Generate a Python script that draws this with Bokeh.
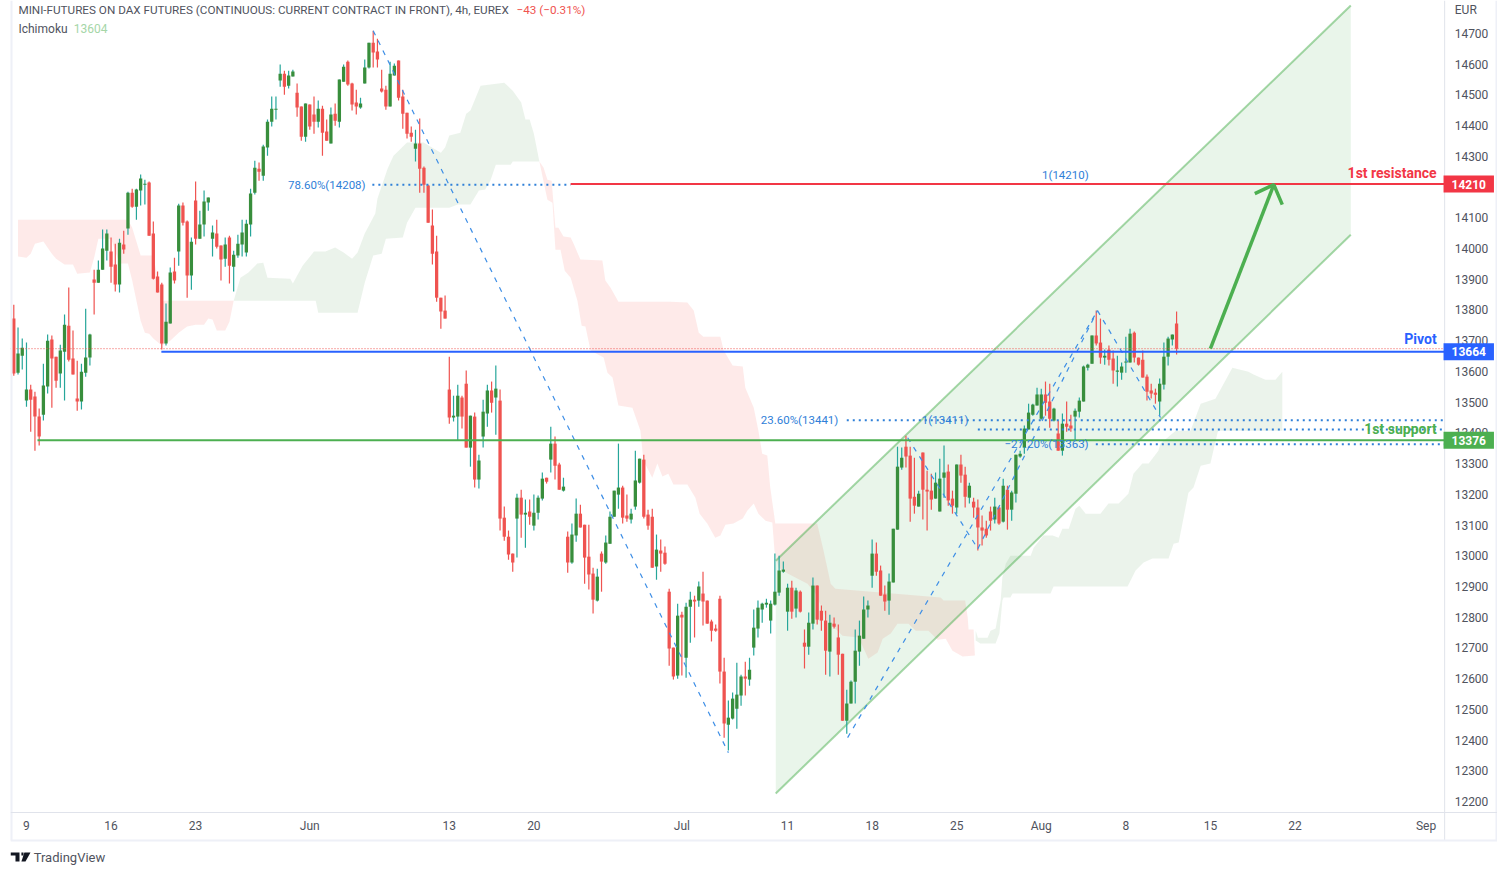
from bokeh.plotting import figure
from bokeh.models import Range1d, LinearAxis, FixedTicker, Label
from bokeh.embed import file_html
from bokeh.resources import INLINE

#Candles (4h bars, prices in EUR)
opens = [13772,13596,13651,13505,13541,13518,13453,13459,13551,13704,
         13648,13593,13664,13749,13642,13512,13502,13596,13645,13899,
         13889,13931,13993,13990,13948,13883,14013,14065,14182,14136,
         14189,14208,14215,14049,13909,13883,13691,13756,13925,13990,
         14140,14088,13912,14156,14032,14078,14150,14032,14049,14010,
         13967,14036,13941,13977,14013,13987,14078,14182,14260,14237,
         14329,14413,14452,14547,14569,14530,14560,14507,14462,14364,
         14469,14436,14413,14455,14381,14342,14439,14413,14543,14608,
         14537,14475,14459,14537,14589,14670,14641,14521,14517,14462,
         14563,14612,14495,14442,14377,14325,14342,14263,14205,14075,
         13990,13840,13798,13541,13450,13453,13515,13560,13352,13453,
         13248,13388,13463,13538,13515,13505,13124,13062,13007,13121,
         13189,13134,13144,13098,13140,13186,13254,13313,13365,13297,
         13212,13062,12978,13066,13137,13101,12997,12942,12854,13007,
         12978,13039,13127,13199,13222,13131,13118,13160,13238,13313,
         13134,13127,12965,13017,13010,12883,12701,12610,12808,12668,
         12834,12857,12854,12877,12854,12786,12763,12860,12623,12450,
         12470,12502,12545,12607,12597,12701,12763,12825,12841,12789,
         12841,12880,12948,12818,12896,12828,12883,12717,12704,12779,
         12903,12821,12789,12688,12779,12734,12681,12463,12519,12590,
         12688,12730,12825,12935,13007,12952,12874,12854,12913,13085,
         13287,13355,13326,13192,13160,13336,13215,13212,13186,13144,
         13254,13274,13186,13157,13297,13264,13189,13176,13157,13092,
         13088,13144,13118,13157,13111,13215,13150,13202,13323,13352,
         13411,13459,13489,13446,13525,13502,13440,13398,13342,13430,
         13424,13453,13469,13502,13612,13625,13717,13694,13645,13671,
         13642,13599,13596,13629,13629,13726,13645,13638,13583,13538,
         13531,13502,13557,13648,13704,13756]
highs = [13817,13743,13707,13694,13557,13534,13479,13625,13720,13717,
         13648,13687,13785,13873,13733,13635,13625,13804,13723,13931,
         13961,14062,14062,14036,14016,14032,14058,14185,14195,14195,
         14241,14224,14218,14088,13925,13889,13821,13938,13970,14146,
         14150,14091,14036,14218,14123,14189,14166,14075,14094,14010,
         14036,14042,13993,14045,14094,14094,14195,14286,14280,14338,
         14420,14495,14495,14599,14579,14579,14582,14537,14462,14472,
         14469,14495,14482,14465,14420,14459,14472,14550,14599,14612,
         14540,14517,14491,14615,14670,14709,14683,14582,14530,14608,
         14602,14612,14517,14442,14397,14387,14423,14267,14208,14127,
         14042,13840,13847,13648,13521,13557,13521,13603,13456,13466,
         13329,13508,13557,13567,13619,13541,13160,13082,13007,13202,
         13215,13183,13183,13199,13196,13271,13254,13420,13388,13303,
         13254,13079,13105,13186,13166,13101,13101,12961,12958,13014,
         13066,13144,13212,13365,13228,13199,13153,13342,13316,13329,
         13150,13153,13069,13053,13030,12893,12701,12844,12818,12847,
         12883,12870,12916,12948,12854,12792,12776,12870,12668,12529,
         12555,12652,12613,12655,12668,12825,12854,12847,12860,12854,
         13007,13000,12981,12909,12919,12896,12887,12760,12815,12929,
         12903,12838,12821,12808,12799,12776,12681,12564,12594,12760,
         12789,12867,12854,13053,13043,12968,12903,12942,13088,13355,
         13352,13391,13355,13319,13212,13336,13277,13267,13271,13316,
         13359,13297,13212,13297,13329,13290,13238,13189,13183,13131,
         13114,13160,13189,13160,13251,13228,13212,13329,13342,13424,
         13495,13495,13547,13544,13567,13560,13482,13440,13463,13502,
         13459,13479,13515,13619,13625,13717,13798,13772,13671,13684,
         13668,13651,13629,13713,13739,13730,13645,13668,13590,13560,
         13544,13577,13694,13713,13720,13795]
lows = [13586,13590,13606,13485,13404,13342,13359,13440,13528,13482,
        13547,13547,13505,13632,13590,13472,13476,13583,13619,13785,
        13889,13931,13961,13889,13860,13857,13983,14045,14133,14094,
        14140,14143,14042,13899,13857,13671,13684,13756,13886,13944,
        14075,13840,13866,14013,14032,14039,14123,13974,14000,13896,
        13941,13886,13860,13970,13974,13974,14039,14176,14221,14221,
        14302,14397,14420,14527,14501,14521,14560,14429,14351,14348,
        14387,14374,14394,14302,14351,14342,14400,14394,14543,14530,
        14449,14436,14455,14537,14586,14589,14589,14508,14452,14462,
        14563,14482,14390,14358,14348,14283,14182,14182,14084,13948,
        13827,13739,13772,13430,13437,13375,13414,13352,13290,13222,
        13219,13352,13420,13466,13394,13082,13049,12987,12948,12994,
        13059,13026,13101,13082,13118,13180,13235,13271,13248,13215,
        13209,12945,12974,13046,13092,12909,12890,12812,12851,12883,
        12974,13039,13127,13153,13105,13111,13105,13150,13235,13121,
        13085,12961,12922,12948,12971,12642,12597,12600,12610,12603,
        12717,12734,12834,12773,12779,12721,12753,12584,12408,12366,
        12467,12437,12512,12545,12577,12675,12734,12782,12831,12747,
        12838,12870,12945,12756,12795,12799,12815,12633,12678,12760,
        12776,12756,12613,12607,12763,12613,12463,12421,12519,12519,
        12642,12730,12799,12896,12935,12870,12821,12808,12913,13085,
        13280,13287,13111,13137,13160,13118,13082,13150,13186,13144,
        13189,13163,13137,13137,13238,13157,13170,13124,13017,13033,
        13059,13082,13105,13101,13108,13085,13114,13173,13319,13332,
        13411,13456,13489,13443,13456,13417,13437,13342,13326,13404,
        13404,13375,13450,13502,13603,13625,13684,13625,13622,13619,
        13560,13551,13573,13596,13629,13629,13619,13580,13505,13512,
        13495,13456,13541,13619,13684,13655]
closes = [13593,13658,13677,13541,13508,13453,13388,13554,13700,13642,
          13570,13668,13752,13638,13590,13502,13599,13645,13720,13889,
          13931,14000,14049,13941,13883,14019,13997,14182,14136,14192,
          14228,14211,14042,13902,13857,13691,13762,13922,13896,14140,
          14084,13912,14022,14032,14078,14153,14166,14052,14006,13964,
          14013,13944,13980,14016,14052,14081,14179,14263,14250,14332,
          14413,14455,14455,14569,14527,14563,14576,14459,14364,14472,
          14397,14413,14455,14377,14351,14436,14416,14550,14592,14534,
          14469,14462,14472,14589,14670,14638,14615,14511,14462,14569,
          14595,14491,14439,14374,14364,14342,14260,14208,14084,13983,
          13840,13795,13772,13450,13456,13521,13453,13352,13456,13248,
          13310,13469,13538,13498,13544,13121,13062,13004,12978,13189,
          13134,13140,13127,13140,13189,13251,13241,13365,13293,13215,
          13225,12978,13069,13137,13092,12994,12939,12857,12932,12981,
          13043,13127,13212,13222,13124,13121,13137,13245,13316,13127,
          13098,12961,13020,13007,12974,12698,12607,12805,12799,12834,
          12857,12851,12900,12851,12779,12756,12756,12623,12454,12473,
          12535,12548,12607,12600,12629,12766,12831,12844,12847,12844,
          12883,12952,12955,12896,12818,12887,12818,12704,12782,12903,
          12792,12789,12691,12782,12769,12678,12463,12519,12590,12691,
          12740,12825,12838,13007,12948,12870,12851,12916,13088,13290,
          13319,13323,13186,13163,13202,13215,13209,13183,13238,13251,
          13271,13180,13163,13297,13261,13192,13228,13157,13092,13082,
          13066,13114,13160,13105,13228,13150,13206,13329,13332,13414,
          13466,13492,13525,13525,13498,13446,13479,13342,13430,13420,
          13414,13472,13505,13616,13622,13717,13691,13645,13651,13638,
          13603,13603,13616,13632,13723,13645,13622,13580,13534,13528,
          13524,13560,13648,13707,13720,13674]
bars = list(range(len(opens)))

#Ichimoku cloud edges, one list pair per edge
red1_top_x = [1,27,28,30,33,35,52]
red1_top = [14094,14094,14068,13977,13977,13830,13830]
red1_bot_x = [1,3,4,5,7,9,10,12,14,15,18,19,20,23,25,27,28,30,31,32,33,35,37,39,41,43,45,46,47,48,50,51,52]
red1_bot = [13974,13970,13983,14016,14023,13983,13967,13948,13948,13918,13922,13970,14032,14032,13951,13951,13896,13765,13726,13723,13707,13684,13700,13726,13746,13752,13752,13772,13769,13733,13733,13762,13830]

green1_top_x = [52,53.6,55.5,57.6,59,60,65.4,66,68.3,71,73.7,76,78,80,81.3,83,85.5,86,88.4,89.8,93,96.9,101,102,103,105.6,107,108,110.4,116,118,120,121,122,123,124.3]
green1_top = [13830,13905,13922,13951,13954,13905,13902,13886,13944,13990,13990,14003,13987,13967,13987,14049,14114,14162,14260,14302,14345,14345,14312,14329,14368,14377,14439,14449,14530,14540,14514,14475,14420,14420,14374,14283]
green1_bot_x = [52,71.4,72,81.3,83,85,87,88,92,93,95,103,105,108,110,111.5,112.7,114,117.5,118,124.3]
green1_bot = [13830,13830,13791,13791,13889,13977,13983,14032,14036,14084,14133,14133,14143,14143,14189,14192,14221,14273,14273,14283,14283]

red2_top_x = [124.3,125.3,126.2,127.2,128.1,128.8,130,131.7,132.4,134,139.2,139.9,141.1,143,155.3,159.3,160.8,162,163.1,167.1,167.9,170,172.4,173,175,176.1,177,178.2,178.9,180.1,190,191.5,193.2,194.3,219.2,219.9,225,225.6,225.8,227,227.3]
red2_top = [14283,14263,14224,14221,14068,14068,14039,14036,14016,13964,13961,13896,13873,13827,13827,13824,13798,13726,13713,13713,13668,13619,13616,13547,13482,13407,13332,13326,13222,13105,13105,13017,12909,12893,12864,12854,12854,12799,12760,12760,12675]
red2_bot_x = [124.3,126.2,127.4,128.1,129.3,130.3,131.7,133.3,134.3,135.2,136.4,139.5,140.4,141.6,143,146.3,148.2,148.9,151,152.2,153.4,154.8,156,159.3,161.2,162.2,164,165.9,167.1,168.3,170.2,172.4,173.5,175,176.1,177.8,179.4,179.9,180.9,183,187.7,189.6,192.4,196,199.8,202.1,204.3,205.5,207.4,209,211.6,213.3,216.3,218.5,220.4,222,224.4,227.3]
red2_bot = [14283,14159,14149,13996,13996,13928,13905,13830,13749,13746,13668,13645,13596,13580,13489,13482,13407,13310,13254,13300,13258,13267,13232,13232,13189,13137,13105,13059,13066,13101,13105,13121,13147,13170,13137,13114,13108,13017,12961,12942,12909,12877,12789,12740,12734,12665,12685,12730,12747,12779,12779,12756,12756,12727,12730,12691,12672,12675]

green2_top_x = [227.5,228,230.3,231,232.2,233.4,233.8,234.6,235.7,240.5,241.2,243.5,245.7,247.1,248,249.5,251.1,252,253.5,257,258.9,261.3,263.6,264.8,266.9,268.4,270.7,271.2,274.8,278.3,280.7,284.2,288.2,292,293.2,296,298.4,300]
green2_top = [12756,12733,12733,12756,12763,12854,12929,12974,13000,13000,13026,13066,13066,13059,13088,13088,13153,13163,13137,13137,13170,13170,13202,13267,13300,13300,13342,13365,13407,13407,13495,13511,13612,13599,13590,13573,13573,13599]
green2_bot_x = [227.5,228.6,232.2,233.1,233.8,234.1,235.7,236.2,245.2,245.9,263.4,264.1,265.3,267.2,269.3,273.1,274.3,275.5,277.8,279,280.7,283,284.7,284.9,300]
green2_bot = [12724,12714,12714,12747,12854,12864,12864,12877,12877,12900,12900,12919,12952,12978,12991,12991,13039,13043,13205,13222,13293,13300,13401,13407,13407]

#Rising channel drawn on the chart
channel_x = [180.2,316.2]
channel_upper = [12984,14791]
channel_lower = [12226,14045]

#Levels
resistance = 14210
pivot = 13664
support = 13376
fib_78 = 14208
fib_23 = 13441
fib_ext_1 = 13411
fib_ext_27 = 13363

#Dashed swing lines (bar, price)
swing_x = [[85,169],[197.2,256.3],[211.4,228],[228,256.3],[256.3,271.2]]
swing_y = [[14709,12359],[12408,13798],[13384,13023],[13023,13798],[13798,13450]]

#Arrow towards the resistance
arrow_x = [283,298]
arrow_y = [13674,14208]
arrow_head_x = [293.5,298,300]
arrow_head_y = [14179,14208,14143]

#Axes
price_ticks = list(range(12200,14800,100))
date_ticks = [3,23,43,70,103,123,158,183,203,223,243,263,283,303,334]
date_labels = ["9","16","23","Jun","13","20","Jul","11","18","25","Aug","8","15","22","Sep"]

FONT = "Roboto"
GREY = "#50535e"
UP_BODY = "#388e3c"
UP_WICK = "#26a69a"
DOWN = "#ef5350"
BLUE = "#2962ff"
RED = "#f23645"
GREEN = "#4caf50"
FIB = "#2f80d8"
BORDER = "#eef0f7"
AXIS_LINE = "#e0e3eb"
LAST_BAR_X = 338.4   #price axis sits here
X_START, X_END = -0.78, 350.9
Y_BOTTOM, Y_TOP = 11982, 14807.4   #the frame runs down to the footer
PANE_BOTTOM = 12073
TIME_AXIS_Y = 12164.2

p = figure(width=1497, height=868, output_backend="svg", toolbar_location=None,
           x_range=Range1d(X_START,X_END), y_range=Range1d(Y_BOTTOM,Y_TOP),
           x_axis_location=None, y_axis_location=None,
           min_border_left=10, min_border_right=0, min_border_top=0, min_border_bottom=0)
p.grid.visible = False
p.outline_line_color = None
p.background_fill_color = "white"

#Ichimoku clouds
for tx,ty,bx,by,col,alpha in [(red1_top_x,red1_top,red1_bot_x,red1_bot,"#f44336",0.11),
                              (green1_top_x,green1_top,green1_bot_x,green1_bot,UP_BODY,0.1),
                              (red2_top_x,red2_top,red2_bot_x,red2_bot,"#f44336",0.11),
                              (green2_top_x,green2_top,green2_bot_x,green2_bot,UP_BODY,0.1)]:
    p.patch(tx+bx[::-1], ty+by[::-1], fill_color=col, fill_alpha=alpha, line_alpha=0)

#Channel
p.patch(channel_x+channel_x[::-1], channel_upper+channel_lower[::-1], fill_color=GREEN, fill_alpha=0.12, line_alpha=0)
p.line(channel_x, channel_upper, line_color=GREEN, line_alpha=0.5, line_width=2)
p.line(channel_x, channel_lower, line_color=GREEN, line_alpha=0.5, line_width=2)

#Candles
up = [i for i in bars if closes[i] >= opens[i]]
down = [i for i in bars if closes[i] < opens[i]]
p.segment(up, [highs[i] for i in up], up, [lows[i] for i in up], line_color=UP_WICK, line_width=1.2)
p.segment(down, [highs[i] for i in down], down, [lows[i] for i in down], line_color=DOWN, line_width=1.2)
p.vbar(up, 0.78, [opens[i] for i in up], [closes[i] for i in up], fill_color=UP_BODY, line_alpha=0)
p.vbar(down, 0.78, [closes[i] for i in down], [opens[i] for i in down], fill_color=DOWN, line_alpha=0)

#Last price
p.line([X_START,LAST_BAR_X], [closes[-1],closes[-1]], line_color=DOWN, line_width=1, line_dash=[1,2])

#Dashed swings
for sx,sy in zip(swing_x, swing_y):
    p.line(sx, sy, line_color="#3d8ee6", line_width=1.2, line_dash=[5,6])

#Fib dotted levels
for x0,level in [(84.8,fib_78),(197,fib_23),(228,fib_ext_1),(255.9,fib_ext_27)]:
    x1 = 131.7 if level == fib_78 else LAST_BAR_X
    p.line([x0,x1], [level,level], line_color=FIB, line_width=2, line_dash=[2,4])

#Main levels
p.line([131.7,LAST_BAR_X], [resistance,resistance], line_color=RED, line_width=2)
p.line([34.9,LAST_BAR_X], [pivot,pivot], line_color=BLUE, line_width=2)
p.line([5.6,LAST_BAR_X], [support,support], line_color=GREEN, line_width=2)

#Arrow
p.line(arrow_x, arrow_y, line_color=GREEN, line_width=3.5)
p.line(arrow_head_x, arrow_head_y, line_color=GREEN, line_width=3.5)

#Axes placed inside the frame, like the panes of the original
yaxis = LinearAxis(fixed_location=LAST_BAR_X, ticker=FixedTicker(ticks=price_ticks))
yaxis.axis_line_color = None
yaxis.major_tick_line_color = None
yaxis.minor_tick_line_color = None
yaxis.major_label_standoff = 4
yaxis.major_label_text_font = FONT
yaxis.major_label_text_font_size = "12px"
yaxis.major_label_text_color = GREY
p.add_layout(yaxis, "right")

xaxis = LinearAxis(fixed_location=TIME_AXIS_Y, ticker=FixedTicker(ticks=date_ticks))
xaxis.major_label_overrides = dict(zip(date_ticks, date_labels))
xaxis.axis_line_color = AXIS_LINE
xaxis.major_tick_line_color = None
xaxis.minor_tick_line_color = None
xaxis.major_label_standoff = 0
xaxis.major_label_text_font = FONT
xaxis.major_label_text_font_size = "12px"
xaxis.major_label_text_color = GREY
p.add_layout(xaxis, "below")

#Pane borders stop at the pane bottom, the footer sits under them
p.line([LAST_BAR_X,LAST_BAR_X], [PANE_BOTTOM,Y_TOP], line_color=AXIS_LINE, line_width=1)
p.line([X_START,X_START], [PANE_BOTTOM,Y_TOP], line_color=BORDER, line_width=4)
p.line([X_END,X_END], [PANE_BOTTOM,Y_TOP], line_color=BORDER, line_width=4)
p.line([X_START,X_END], [PANE_BOTTOM,PANE_BOTTOM], line_color=BORDER, line_width=2)

def text(x, y, t, color=GREY, align="left", size="12px", style="normal"):
    p.add_layout(Label(x=x, y=y, text=t, text_color=color, text_align=align, text_baseline="middle",
                       text_font=FONT, text_font_size=size, text_font_style=style))

#Header
text(1.1, 14775, "MINI-FUTURES ON DAX FUTURES (CONTINUOUS: CURRENT CONTRACT IN FRONT), 4h, EUREX", size="11.7px")
text(118.9, 14775, "\u221243 (\u22120.31%)", color=DOWN, size="11.7px")
text(1.1, 14716, "Ichimoku")
text(14.2, 14716, "13604", color="#a5d6a7")
text(340.8, 14778, "EUR")

#Drawing labels
text(83.2, fib_78, "78.60%(14208)", color=FIB, align="right", size="11.5px")
text(248.7, 14241, "1(14210)", color=FIB, align="center", size="11.5px")
text(195, fib_23, "23.60%(13441)", color=FIB, align="right", size="11.5px")
text(225.8, 13443, "1(13411)", color=FIB, align="right", size="11.5px")
text(254.2, fib_ext_27, "\u221227.20%(13363)", color=FIB, align="right", size="11.5px")
text(336.5, 14247, "1st resistance", color=RED, align="right", size="14px", style="bold")
text(336.5, 13704, "Pivot", color=BLUE, align="right", size="14px", style="bold")
text(336.5, 13411, "1st support", color=GREEN, align="right", size="14px", style="bold")

#Price tags on the axis
for level,col in [(resistance,RED),(pivot,BLUE),(support,GREEN)]:
    p.add_layout(Label(x=344.1, y=level, text=str(level), text_color="white", text_align="center",
                       text_baseline="middle", text_font=FONT, text_font_size="12px", text_font_style="bold",
                       background_fill_color=col, padding=(8,4)))

#Footer logo and name
p.patches([[-0.78,1.35,1.35,0.4,0.4,-0.78],[1.8,2.3,2.3,1.8],[2.5,3.95,2.77,1.8]],
          [[12034,12034,12005,12005,12024,12024],[12034,12034,12024,12024],[12034,12034,12005,12005]],
          fill_color="#131722", line_alpha=0)
text(4.7, 12017, "TradingView", size="13px")

open("out.html", "w").write(file_html(p, INLINE))
